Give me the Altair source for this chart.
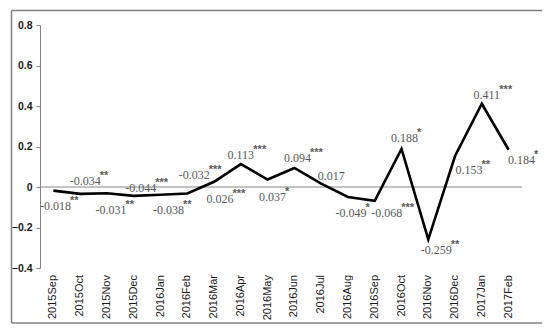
import altair as alt
import pandas as pd

months = ["2015Sep", "2015Oct", "2015Nov", "2015Dec", "2016Jan", "2016Feb",
          "2016Mar", "2016Apr", "2016May", "2016Jun", "2016Jul", "2016Aug",
          "2016Sep", "2016Oct", "2016Nov", "2016Dec", "2017Jan", "2017Feb"]
values = [-0.018, -0.034, -0.031, -0.044, -0.038, -0.032,
          0.026, 0.113, 0.037, 0.094, 0.017, -0.049,
          -0.068, 0.188, -0.259, 0.153, 0.411, 0.184]
stars = ["**", "**", "**", "***", "**", "***",
         "***", "***", "*", "***", "", "*",
         "***", "*", "**", "**", "***", "*"]

# label placement (pixel offsets of label centre from its point)
label_dx = [2, 5, 4, 7, 8, 7, 6, 0, 5, 3, 10, 3, 12, 3, 8, 14, 5, 13]
label_dy = [15, -13, 17, -8, 15, -18, 17, -9, 17, -10, -8, 16, 12, -11, 11, 14, -9, 10]

W, H = 482, 243
PX_X = W / 18.0
PX_Y = H / 1.2

rows = []
for i, (m, v, s) in enumerate(zip(months, values, stars)):
    txt = f"{v:.3f}"
    w = 6 * sum(c.isdigit() for c in txt) + 3 * txt.count(".") + 4 * txt.count("-")
    lx = i + label_dx[i] / PX_X
    ly = v - label_dy[i] / PX_Y
    rows.append({"idx": i, "month": m, "value": v, "label": txt, "stars": s,
                 "lx": lx, "ly": ly, "sx": lx + (w / 2 - 1) / PX_X})
df = pd.DataFrame(rows)

xscale = alt.Scale(domain=[-0.5, 17.5], nice=False, zero=False)
yscale = alt.Scale(domain=[-0.4, 0.8], nice=False, zero=False)

base = alt.Chart(df)

line = base.mark_line(color="black", strokeWidth=2.6, strokeJoin="miter").encode(
    x=alt.X("idx:Q", scale=xscale, axis=None),
    y=alt.Y("value:Q", scale=yscale,
            axis=alt.Axis(values=[-0.4, -0.2, 0, 0.2, 0.4, 0.6, 0.8],
                          labelExpr="datum.value == 0 ? '0' : format(datum.value, '.1f')",
                          title=None, grid=False, tickSize=4, labelPadding=4,
                          domainColor="#868686", tickColor="#868686",
                          labelFont="Liberation Sans", labelFontSize=10.5,
                          labelFontWeight="bold", labelColor="#1a1a1a")),
)

xlabels = base.mark_text(font="Liberation Sans", fontSize=11, color="#1a1a1a",
                         angle=270, align="right", baseline="middle").encode(
    x=alt.X("idx:Q", scale=xscale), y=alt.value(H + 7), text="month:N")

zero = alt.Chart(pd.DataFrame({"z": [0]})).mark_rule(color="#868686", strokeWidth=1).encode(
    y=alt.Y("z:Q", scale=yscale),
    x=alt.value(0), x2=alt.value(W),
)

nums = base.mark_text(font="Liberation Serif", fontSize=12, color="#595959",
                      align="center", baseline="middle").encode(
    x=alt.X("lx:Q", scale=xscale), y=alt.Y("ly:Q", scale=yscale), text="label:N")

star_txt = base.mark_text(font="Liberation Sans", fontSize=11, fontWeight="bold",
                          color="#595959", align="left", baseline="middle", dy=-5).encode(
    x=alt.X("sx:Q", scale=xscale), y=alt.Y("ly:Q", scale=yscale), text="stars:N")

L, R, T, B = -28.5, 503, -14.5, 298
one = pd.DataFrame({"b": [1]})
bstyle = dict(color="#7f7f7f", strokeWidth=1.5)
border_l = alt.Chart(one).mark_rule(**bstyle).encode(
    x=alt.value(L), y=alt.value(T), y2=alt.value(B))
border_r = alt.Chart(one).mark_rule(**bstyle).encode(
    x=alt.value(R), y=alt.value(T), y2=alt.value(B))
border_t = alt.Chart(one).mark_rule(**bstyle).encode(
    y=alt.value(T), x=alt.value(L), x2=alt.value(R))
border_b = alt.Chart(one).mark_rule(**bstyle).encode(
    y=alt.value(B), x=alt.value(L), x2=alt.value(R))

chart = alt.layer(zero, line, xlabels, nums, star_txt,
                  border_l, border_r, border_t, border_b).properties(
    width=W, height=H, autosize="none",
    padding={"left": 32, "top": 17, "right": 20, "bottom": 56},
).configure_view(stroke=None)

chart.save("out.html", embed_options={"renderer": "svg", "actions": False})
